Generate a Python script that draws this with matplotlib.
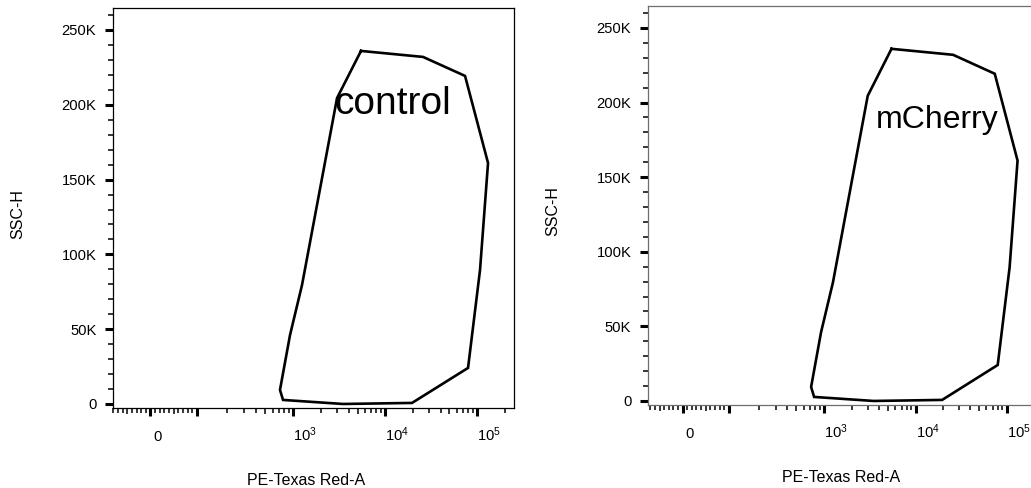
import numpy as np
import matplotlib
matplotlib.use("Agg")
import matplotlib.pyplot as plt
from matplotlib.ticker import FixedLocator, NullFormatter
from matplotlib.transforms import ScaledTranslation

plt.rcParams.update(
    {
        "font.family": ["Liberation Sans", "DejaVu Sans"],
        "mathtext.fontset": "custom",
        "mathtext.rm": "Liberation Sans",
    }
)

# gate polygon (same gate drawn on both samples)
gate_x = [5430, 25760, 73980, 131800, 107800, 79760, 19540, 3460, 776, 720, 923, 1243, 2980, 5430]
gate_y = [236000, 232000, 219300, 161100, 89600, 24100, 700, 0, 2700, 9400, 46100, 79500, 204500, 236000]

samples = ["control", "mCherry"]
sample_fontsize = [28, 23]

x_major = [0, 100, 1000, 10000, 100000]
x_major_labels = ["0", "", r"$\mathregular{10^{3}}$", r"$\mathregular{10^{4}}$", r"$\mathregular{10^{5}}$"]
x_mid = [-50, 50, 500, 5000, 50000]
x_minor = [-90, -80, -70, -60, -40, -30, -20, -10, 10, 20, 30, 40, 60, 70, 80, 90,
           200, 300, 400, 600, 700, 800, 900,
           2000, 3000, 4000, 6000, 7000, 8000, 9000,
           20000, 30000, 40000, 60000, 70000, 80000, 90000, 200000]
y_major = [0, 50000, 100000, 150000, 200000, 250000]
y_major_labels = ["0", "50K", "100K", "150K", "200K", "250K"]
y_minor = [v for v in range(10000, 270000, 10000) if v % 50000]

# biexponential-like display: linear from -100..100, log-ish above
LIN = 0.5074
OFF = 12.0


def fwd(x):
    x = np.asarray(x, float)
    a = np.abs(x)
    lg = LIN + np.log10((np.maximum(a, 100) - OFF) / (100 - OFF))
    return np.where(a <= 100, x / 100 * LIN, np.sign(x) * lg)


def inv(y):
    y = np.asarray(y, float)
    a = np.abs(y)
    big = (100 - OFF) * 10 ** (np.clip(a, LIN, 12) - LIN) + OFF
    return np.where(a <= LIN, y / LIN * 100, np.sign(y) * big)


fig = plt.figure(figsize=(10.31, 4.88), dpi=100)
positions = [[0.1096, 0.1639, 0.389, 0.8197], [0.6285, 0.1701, 0.389, 0.8176]]
xlims = [(-80.6, 253400), (-75, 292450)]
spine_colors = ["black", "#6e6e6e"]
text_pos = [(0.698, 0.76), (0.72, 0.714)]

axes = []
for pos, xl, name, fs, sc, tp in zip(positions, xlims, samples, sample_fontsize, spine_colors, text_pos):
    ax = fig.add_axes(pos)
    ax.set_xscale("function", functions=(fwd, inv))
    ax.plot(gate_x, gate_y, color="black", lw=1.9, solid_joinstyle="miter")
    ax.set_xlim(*xl)
    ax.set_ylim(-2700, 264700)

    ax.xaxis.set_major_locator(FixedLocator(x_major))
    ax.set_xticklabels(x_major_labels)
    ax.xaxis.set_minor_locator(FixedLocator(sorted(x_minor + x_mid)))
    ax.xaxis.set_minor_formatter(NullFormatter())
    ax.yaxis.set_major_locator(FixedLocator(y_major))
    ax.set_yticklabels(y_major_labels)
    ax.yaxis.set_minor_locator(FixedLocator(y_minor))
    ax.yaxis.set_minor_formatter(NullFormatter())

    ax.tick_params(which="major", length=6, width=2.2, labelsize=10.6)
    ax.tick_params(which="minor", length=3.3, width=1.1)
    ax.tick_params(axis="x", which="major", pad=17.5)
    ax.tick_params(axis="y", which="major", pad=6)
    for lab in ax.get_xticklabels():
        lab.set_verticalalignment("baseline")
        lab.set_horizontalalignment("left")

    for s in ax.spines.values():
        s.set_color(sc)
        s.set_linewidth(0.9)

    ax.set_xlabel("PE-Texas Red-A", fontsize=11.5)
    ax.set_ylabel("SSC-H", fontsize=11.5)
    ax.xaxis.set_label_coords(0.482, -0.162)
    ax.yaxis.set_label_coords(-0.218, 0.485)
    ax.text(tp[0], tp[1], name, transform=ax.transAxes, fontsize=fs,
            ha="center", va="center")
    axes.append(ax)

# slightly longer ticks at the 5s, nudge the "0" label right a little
fig.canvas.draw()
nudge = ScaledTranslation(2.5 / 100, 0, fig.dpi_scale_trans)
for ax in axes:
    for t in ax.xaxis.get_minor_ticks():
        if t.get_loc() in x_mid:
            t.tick1line.set_markersize(4.6)
    for t in ax.xaxis.get_major_ticks():
        if t.get_loc() == 0:
            t.label1.set_transform(t.label1.get_transform() + nudge)

fig.savefig("out.png", dpi=100)
